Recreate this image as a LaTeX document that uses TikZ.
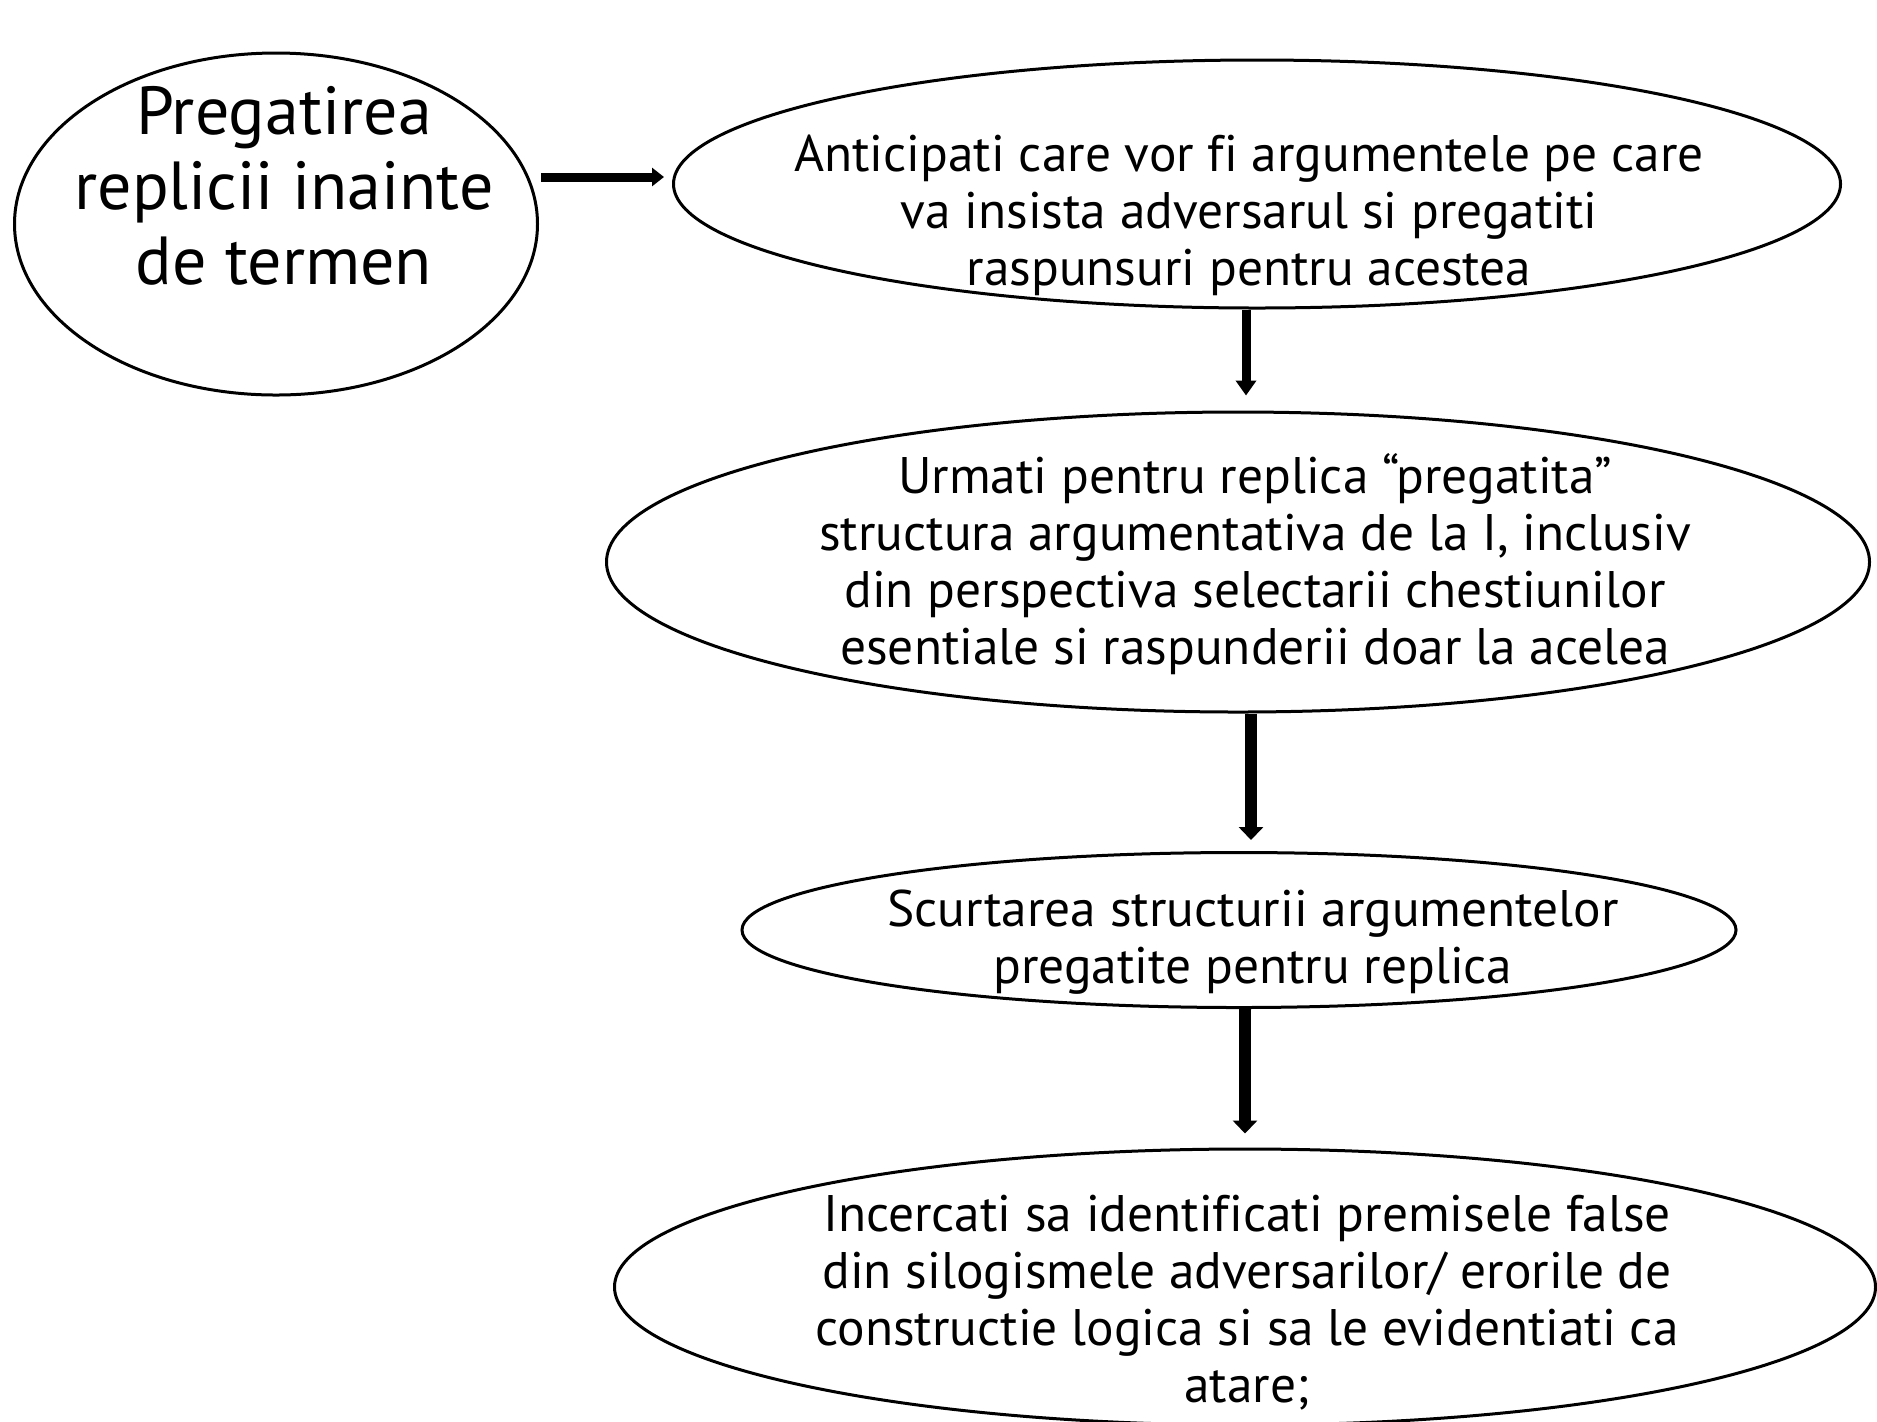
\documentclass[tikz,border=0pt]{standalone}
\usepackage{fontspec}
\setmainfont[Ligatures=NoCommon]{PT Sans}
\usepackage{tikz}
\usetikzlibrary{%
	shapes.geometric,%
	arrows.meta%
}

\begin{document}
\begin{tikzpicture}[x=0.5pt,y=-0.5pt,
	oval/.style={draw,ellipse,line width=1.5pt,inner sep=0pt},
	txt/.style={align=center,inner sep=0pt,font=\fontsize{25.7}{28.5}\selectfont},
	bigtxt/.style={align=center,inner sep=0pt,font=\fontsize{34}{37.5}\selectfont},
	flow/.style={line width=#1}]
\useasboundingbox (0,0) rectangle (1877,1421);
% Ellipses
\node [oval,minimum width=261.5pt,minimum height=171pt] (prep) at (276,224) {};
\node [oval,minimum width=583.5pt,minimum height=124pt] (antic) at (1257,184) {};
\node [oval,minimum width=631.5pt,minimum height=150pt] (urm) at (1238,562) {};
\node [oval,minimum width=497pt,minimum height=77.5pt] (scurt) at (1239,930) {};
\node [oval,minimum width=630.5pt,minimum height=138pt] (incerc) at (1245,1287) {};
% Texts
\node [bigtxt] (tprep) at ([xshift=4pt,yshift=19pt]prep.center) {Pregatirea\\replicii inainte\\de termen};
\node [txt] (tantic) at ([xshift=-4pt,yshift=-15.5pt]antic.center) {Anticipati care vor fi argumentele pe care\\va insista adversarul si pregatiti\\raspunsuri pentru acestea};
\node [txt] (turm) at ([xshift=8.5pt,yshift=-1pt]urm.center) {Urmati pentru replica “pregatita”\\structura argumentativa de la I, inclusiv\\din perspectiva selectarii chestiunilor\\esentiale si raspunderii doar la acelea};
\node [txt] (tscurt) at ([xshift=7pt,yshift=-6pt]scurt.center) {Scurtarea structurii argumentelor\\pregatite pentru replica};
\node [txt] (tincerc) at ([xshift=1pt,yshift=-8pt]incerc.center) {Incercati sa identificati premisele false\\din silogismele adversarilor/ erorile de\\constructie logica si sa le evidentiati ca\\atare;};
% Arrows
\draw [flow=4.5pt,-{Triangle[width=9pt,length=6pt]}] ([xshift=1pt,yshift=23.5pt]prep.east) -- ([xshift=-4pt,yshift=3.5pt]antic.west);
\draw [flow=4.5pt,-{Triangle[width=10pt,length=7.5pt]}] ([xshift=-5.5pt]antic.south) -- ([xshift=4pt,yshift=7.5pt]urm.north);
\draw [flow=6pt,-{Triangle[width=12pt,length=6.5pt]}] ([xshift=6.5pt]urm.south) -- ([xshift=6pt,yshift=5.5pt]scurt.north);
\draw [flow=6pt,-{Triangle[width=12pt,length=6.5pt]}] ([xshift=3pt]scurt.south) -- ([yshift=7pt]incerc.north);
\end{tikzpicture}
\end{document}
